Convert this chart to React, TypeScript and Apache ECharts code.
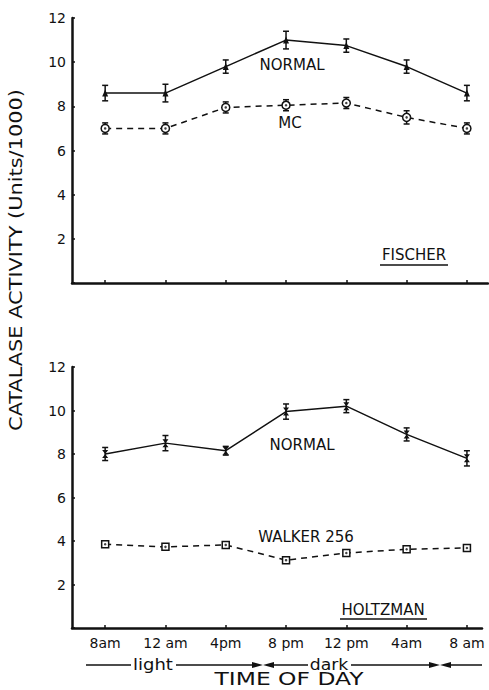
import React, { useEffect, useRef } from "react";
import * as echarts from "echarts";

const timeLabels = ["8am", "12 am", "4pm", "8 pm", "12 pm", "4am", "8 am"];
const yTicks = [0, 2, 4, 6, 8, 10, 12];

const fischerNormal = [8.6, 8.6, 9.8, 11.0, 10.75, 9.8, 8.6];
const fischerNormalErr = [0.35, 0.4, 0.3, 0.4, 0.3, 0.3, 0.35];
const fischerMC = [7.0, 7.0, 7.95, 8.05, 8.15, 7.5, 7.0];
const fischerMCErr = [0.25, 0.25, 0.25, 0.25, 0.25, 0.3, 0.25];

const holtzNormal = [8.0, 8.5, 8.15, 9.95, 10.2, 8.9, 7.8];
const holtzNormalErr = [0.3, 0.35, 0.2, 0.35, 0.3, 0.3, 0.35];
const holtzWalker = [3.85, 3.73, 3.82, 3.12, 3.45, 3.62, 3.68];
const holtzWalkerErr = [0.1, 0.08, 0.1, 0.08, 0.1, 0.12, 0.1];

const INK = "#111";
const FONT = '"DejaVu Sans", sans-serif';

const pts = (vals: number[]) => vals.map((v, i) => [i, v]);
const errPts = (vals: number[], errs: number[]) => vals.map((v, i) => [i, v, errs[i]]);

const errRender = (params: any, api: any) => {
  const x = api.value(0);
  const y = api.value(1);
  const e = api.value(2);
  const lo = api.coord([x, y - e]);
  const hi = api.coord([x, y + e]);
  const hw = 3;
  const st = { stroke: INK, lineWidth: 1.5 };
  return {
    type: "group",
    children: [
      { type: "line", shape: { x1: lo[0], y1: lo[1], x2: hi[0], y2: hi[1] }, style: st },
      { type: "line", shape: { x1: lo[0] - hw, y1: lo[1], x2: lo[0] + hw, y2: lo[1] }, style: st },
      { type: "line", shape: { x1: hi[0] - hw, y1: hi[1], x2: hi[0] + hw, y2: hi[1] }, style: st },
    ],
  };
};

const hourglass = "path://M0,0L10,0L5,6L10,12L0,12L5,6Z";

export default function App() {
  const ref = useRef<HTMLDivElement>(null);
  useEffect(() => {
    if (!ref.current) return;
    const chart = echarts.init(ref.current, null, { renderer: "svg" });

    const xAxisBase = (gi: number, showLabels: boolean) => ({
      type: "value",
      gridIndex: gi,
      min: -0.55,
      max: 6.35,
      splitLine: { show: false },
      axisLine: { show: true, onZero: false, lineStyle: { color: INK, width: 2.5 } },
      axisTick: {
        show: true,
        inside: true,
        length: 3,
        customValues: timeLabels.map((_, i) => i),
        lineStyle: { color: INK, width: 1.5 },
      },
      axisLabel: {
        show: showLabels,
        customValues: timeLabels.map((_, i) => i),
        formatter: (v: number) => timeLabels[Math.round(v)] ?? "",
        color: INK,
        fontFamily: FONT,
        fontSize: 14,
        margin: 8,
      },
    });

    const yAxisBase = (gi: number) => ({
      type: "value",
      gridIndex: gi,
      min: yTicks[0],
      max: yTicks[yTicks.length - 1],
      interval: 2,
      splitLine: { show: false },
      axisLine: { show: true, onZero: false, lineStyle: { color: INK, width: 2.5 } },
      axisTick: { show: true, inside: true, length: 3, lineStyle: { color: INK, width: 1.5 } },
      axisLabel: {
        formatter: (v: number) => (v === 0 ? "" : String(v)),
        color: INK,
        fontFamily: FONT,
        fontSize: 14,
        margin: 6,
      },
    });

    const lineSeries = (
      xi: number,
      vals: number[],
      symbol: string,
      symbolSize: any,
      dashed: boolean,
      empty: boolean
    ) => ({
      type: "line",
      xAxisIndex: xi,
      yAxisIndex: xi,
      data: pts(vals),
      symbol,
      symbolSize,
      showSymbol: true,
      z: 3,
      lineStyle: { color: INK, width: 1.5, type: dashed ? [6, 5] : "solid" },
      itemStyle: empty
        ? { color: "#fff", borderColor: INK, borderWidth: 1.5 }
        : { color: INK, borderWidth: 0 },
    });

    const dotSeries = (xi: number, vals: number[]) => ({
      type: "scatter",
      xAxisIndex: xi,
      yAxisIndex: xi,
      data: pts(vals),
      symbol: "circle",
      symbolSize: 2.5,
      z: 5,
      itemStyle: { color: INK },
    });

    const errSeries = (xi: number, vals: number[], errs: number[]) => ({
      type: "custom",
      xAxisIndex: xi,
      yAxisIndex: xi,
      data: errPts(vals, errs),
      encode: { x: 0, y: 1 },
      renderItem: errRender,
      z: 2,
    });

    const txt = (text: string, x: number, y: number, size = 15, extra: any = {}) => ({
      type: "text",
      x,
      y,
      ...extra,
      style: {
        text,
        font: `${size}px ${FONT}`,
        fill: INK,
        textAlign: "center",
        textVerticalAlign: "middle",
      },
    });
    const seg = (x1: number, y1: number, x2: number, y2: number, w = 1.5) => ({
      type: "line",
      shape: { x1, y1, x2, y2 },
      style: { stroke: INK, lineWidth: w },
    });
    const tri = (tipX: number, baseX: number, y: number, h = 3) => ({
      type: "polygon",
      shape: { points: [[baseX, y - h], [tipX, y], [baseX, y + h]] },
      style: { fill: INK },
    });

    const ly = 665;

    chart.setOption({
      animation: false,
      backgroundColor: "#fff",
      grid: [
        { left: 72, top: 18, width: 416, height: 265, containLabel: false },
        { left: 72, top: 367, width: 410, height: 261, containLabel: false },
      ],
      xAxis: [xAxisBase(0, false), { ...xAxisBase(1, true), max: 6.25 }],
      yAxis: [yAxisBase(0), yAxisBase(1)],
      series: [
        errSeries(0, fischerNormal, fischerNormalErr),
        lineSeries(0, fischerNormal, "triangle", [6, 7], false, false),
        errSeries(0, fischerMC, fischerMCErr),
        lineSeries(0, fischerMC, "circle", 8, true, true),
        dotSeries(0, fischerMC),
        errSeries(1, holtzNormal, holtzNormalErr),
        lineSeries(1, holtzNormal, hourglass, [6, 8], false, false),
        errSeries(1, holtzWalker, holtzWalkerErr),
        lineSeries(1, holtzWalker, "rect", 7, true, true),
        dotSeries(1, holtzWalker),
      ],
      graphic: [
        txt("CATALASE ACTIVITY (Units/1000)", 16, 260, 18, { rotation: Math.PI / 2, scaleX: 1.16 }),
        txt("NORMAL", 292, 65),
        txt("MC", 290, 123),
        txt("FISCHER", 414, 255),
        seg(380, 265, 448, 265),
        txt("NORMAL", 302, 445),
        txt("WALKER 256", 306, 537),
        txt("HOLTZMAN", 383, 610),
        seg(340, 619, 427, 619),
        seg(86, ly, 131, ly),
        txt("light", 153, ly, 15, { scaleX: 1.2 }),
        seg(176, ly, 252, ly),
        tri(263, 252, ly),
        tri(263, 274, ly),
        seg(274, ly, 308, ly),
        txt("dark", 329, ly, 15, { scaleX: 1.15 }),
        seg(351, ly, 429, ly),
        tri(440, 429, ly),
        tri(440, 451, ly),
        seg(451, ly, 482, ly),
        txt("TIME OF DAY", 289, 679, 18, { scaleX: 1.3 }),
      ],
    });
    return () => chart.dispose();
  }, []);
  return (
    <div
      ref={ref}
      style={{ position: "fixed", left: 0, top: 0, width: 489, height: 690, background: "#fff" }}
    />
  );
}
